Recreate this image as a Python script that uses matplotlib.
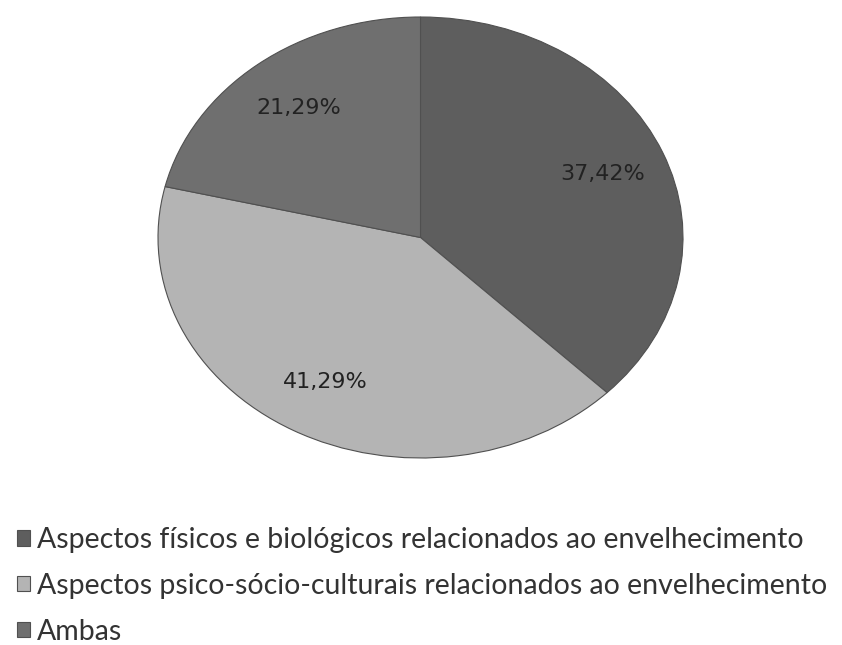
import matplotlib.pyplot as plt

categorias = ["Aspectos físicos e biológicos relacionados ao envelhecimento",
              "Aspectos psico-sócio-culturais relacionados ao envelhecimento",
              "Ambas"]
valores = [37.42, 41.29, 21.29]
cores = ["#5e5e5e", "#b4b4b4", "#6f6f6f"]

fig = plt.figure(figsize=(8.42, 6.45), dpi=100)
ax = fig.add_axes([158/842, (645-458)/645, 525/842, 441/645])

def rotulo(p):
    return ("%.2f%%" % p).replace(".", ",")

wedges, textos, pcts = ax.pie(valores, colors=cores, startangle=90, counterclock=False,
                              autopct=rotulo, pctdistance=0.75,
                              wedgeprops=dict(edgecolor="#505050", linewidth=0.8),
                              textprops=dict(fontsize=16, color="#222222"))
ax.set_xlim(-1.0, 1.0)
ax.set_ylim(-1.0, 1.0)
ax.set_aspect("auto")
ax.axis("off")

leg = fig.legend(wedges, categorias, loc="upper left", bbox_to_anchor=(17/842, 1-527/645),
                 frameon=False, handlelength=0.45, handleheight=0.45, handletextpad=0.25,
                 labelspacing=0.7, borderpad=0, borderaxespad=0,
                 prop=dict(family="Lato", size=20.5))
for t in leg.get_texts():
    t.set_color("#333333")

fig.savefig("out.png", dpi=100)
